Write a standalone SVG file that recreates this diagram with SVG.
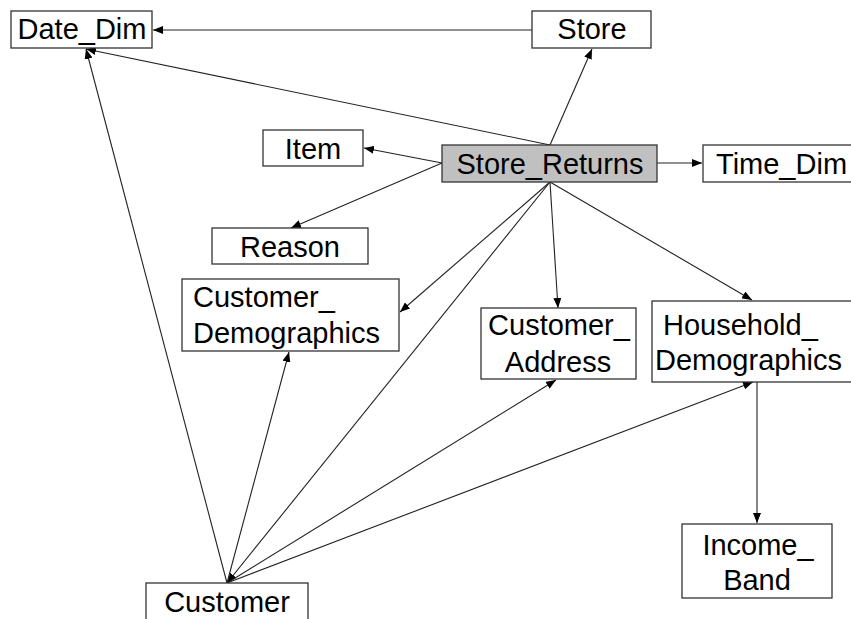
<svg xmlns="http://www.w3.org/2000/svg" width="851" height="619" viewBox="0 0 851 619">
<style>
.box{fill:#fff;stroke:#333;stroke-width:1.3}
.hl{fill:#c0c0c0}
text{font-family:"Liberation Sans",Arial,sans-serif;font-size:29px;fill:#000}
.c{text-anchor:middle}
.e{fill:none;stroke:#222;stroke-width:1.1;marker-end:url(#ah)}
</style>
<defs>
<marker id="ah" markerUnits="userSpaceOnUse" markerWidth="11" markerHeight="8" refX="10" refY="4" orient="auto">
<path d="M0,0 L10,4 L0,8 z" fill="#000"/>
</marker>
</defs>
<g id="connectors">
<line class="e" x1="532" y1="30" x2="153" y2="30"/>
<line class="e" x1="550" y1="145" x2="592" y2="49"/>
<line class="e" x1="550" y1="145" x2="86" y2="49"/>
<line class="e" x1="227" y1="583" x2="86" y2="49"/>
<line class="e" x1="442" y1="163" x2="364" y2="148"/>
<line class="e" x1="442" y1="163" x2="291" y2="228"/>
<line class="e" x1="657" y1="163" x2="702" y2="163"/>
<line class="e" x1="550" y1="182" x2="400" y2="312"/>
<line class="e" x1="550" y1="182" x2="558" y2="308"/>
<line class="e" x1="550" y1="182" x2="752" y2="300"/>
<line class="e" x1="550" y1="182" x2="227" y2="583"/>
<line class="e" x1="227" y1="583" x2="289" y2="352"/>
<line class="e" x1="227" y1="583" x2="556" y2="380"/>
<line class="e" x1="227" y1="583" x2="753" y2="382"/>
<line class="e" x1="757" y1="382" x2="757" y2="523"/>
</g>
<g id="Date_Dim"><rect class="box" x="11" y="11" width="141" height="37"/><text class="c" x="82" y="39">Date_Dim</text></g>
<g id="Store"><rect class="box" x="532" y="11" width="119" height="37"/><text class="c" x="592" y="39">Store</text></g>
<g id="Store_Returns"><rect class="box hl" x="442" y="145" width="215" height="37"/><text class="c" x="550" y="174">Store_Returns</text></g>
<g id="Time_Dim"><rect class="box" x="703" y="145" width="155" height="37"/><text x="716" y="174">Time_Dim</text></g>
<g id="Item"><rect class="box" x="263" y="130" width="100" height="36"/><text class="c" x="313" y="159">Item</text></g>
<g id="Reason"><rect class="box" x="212" y="228" width="156" height="36"/><text class="c" x="290" y="257">Reason</text></g>
<g id="Customer_Demographics"><rect class="box" x="182" y="279" width="217" height="72"/><text x="193" y="307">Customer_</text><text x="193" y="343">Demographics</text></g>
<g id="Customer_Address"><rect class="box" x="481" y="308" width="155" height="71"/><text class="c" x="559" y="335">Customer_</text><text class="c" x="558" y="372">Address</text></g>
<g id="Household_Demographics"><rect class="box" x="652" y="301" width="206" height="81"/><text x="663" y="335">Household_</text><text x="655" y="370">Demographics</text></g>
<g id="Income_Band"><rect class="box" x="682" y="524" width="150" height="74"/><text class="c" x="758" y="555">Income_</text><text class="c" x="757" y="590">Band</text></g>
<g id="Customer"><rect class="box" x="146" y="583" width="162" height="45"/><text class="c" x="227" y="612">Customer</text></g>
</svg>
